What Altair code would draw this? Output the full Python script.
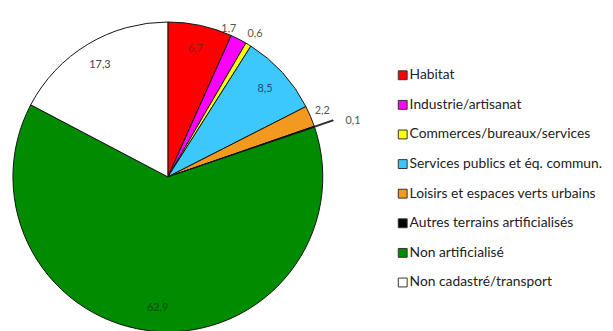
import altair as alt
import pandas as pd

categories = [
    "Habitat",
    "Industrie/artisanat",
    "Commerces/bureaux/services",
    "Services publics et éq. commun.",
    "Loisirs et espaces verts urbains",
    "Autres terrains artificialisés",
    "Non artificialisé",
    "Non cadastré/transport",
]
values = [6.7, 1.7, 0.6, 8.5, 2.2, 0.1, 62.9, 17.3]
labels = ["6,7", "1,7", "0,6", "8,5", "2,2", "0,1", "62,9", "17,3"]
colors = ["#FF0000", "#FF00FF", "#FFFF00", "#3CC8FA", "#F39A1E", "#000000", "#008C00", "#FFFFFF"]
label_colors = ["#8B1A1A", "#555555", "#555555", "#1F4E79", "#555555", "#555555", "#0A4A0A", "#444444"]

df = pd.DataFrame({
    "cat": categories,
    "value": values,
    "label": labels,
    "idx": list(range(len(categories))),
})

CX, CY, R = 162, 169, 157
FONT = "Lato"

base = alt.Chart(df).encode(
    theta=alt.Theta("value:Q", stack=True),
    order=alt.Order("idx:Q", sort="ascending"),
)

pie = base.mark_arc(stroke="#111111", strokeWidth=1, x=CX, y=CY, outerRadius=R).encode(
    color=alt.Color(
        "cat:N",
        scale=alt.Scale(domain=categories, range=colors),
        sort=categories,
        legend=alt.Legend(
            title=None,
            orient="none",
            legendX=393,
            legendY=59,
            symbolType="square",
            symbolSize=81,
            symbolStrokeColor="#333333",
            symbolStrokeWidth=1,
            labelFont=FONT,
            labelFontSize=14,
            labelColor="#222222",
            labelOffset=0,
            rowPadding=16,
            labelLimit=300,
            padding=0,
        ),
    )
)

leader = base.mark_arc(x=CX, y=CY, innerRadius=R, outerRadius=R + 20, stroke="#222222", strokeWidth=0.8, fill="#222222").encode(
    opacity=alt.condition(alt.datum.value < 0.5, alt.value(1), alt.value(0))
)

label_fill = alt.Fill("cat:N", scale=alt.Scale(domain=categories, range=label_colors), legend=None)


def text_layer(test, radius, dx=0, dy=0):
    return base.mark_text(x=CX, y=CY, radius=radius, dx=dx, dy=dy, font=FONT, fontSize=11).encode(
        text=alt.condition(test, "label:N", alt.value("")),
        fill=label_fill,
    )


t_in = text_layer(alt.datum.value >= 5, 133)
t_out = text_layer(((alt.datum.value < 1) | (alt.datum.value >= 2)) & (alt.datum.value >= 0.5) & (alt.datum.value < 5), 170)
t_out_left = text_layer((alt.datum.value >= 1) & (alt.datum.value < 2), 166, dx=-14, dy=-2)
t_tiny = text_layer(alt.datum.value < 0.5, 192, dx=6, dy=6)

chart = alt.layer(pie, leader, t_in, t_out, t_out_left, t_tiny).properties(
    width=605, height=323, padding=0, autosize=alt.AutoSizeParams(type="none")
).configure_view(stroke=None)

chart.save("out.html", embed_options={"renderer": "svg", "actions": False})
